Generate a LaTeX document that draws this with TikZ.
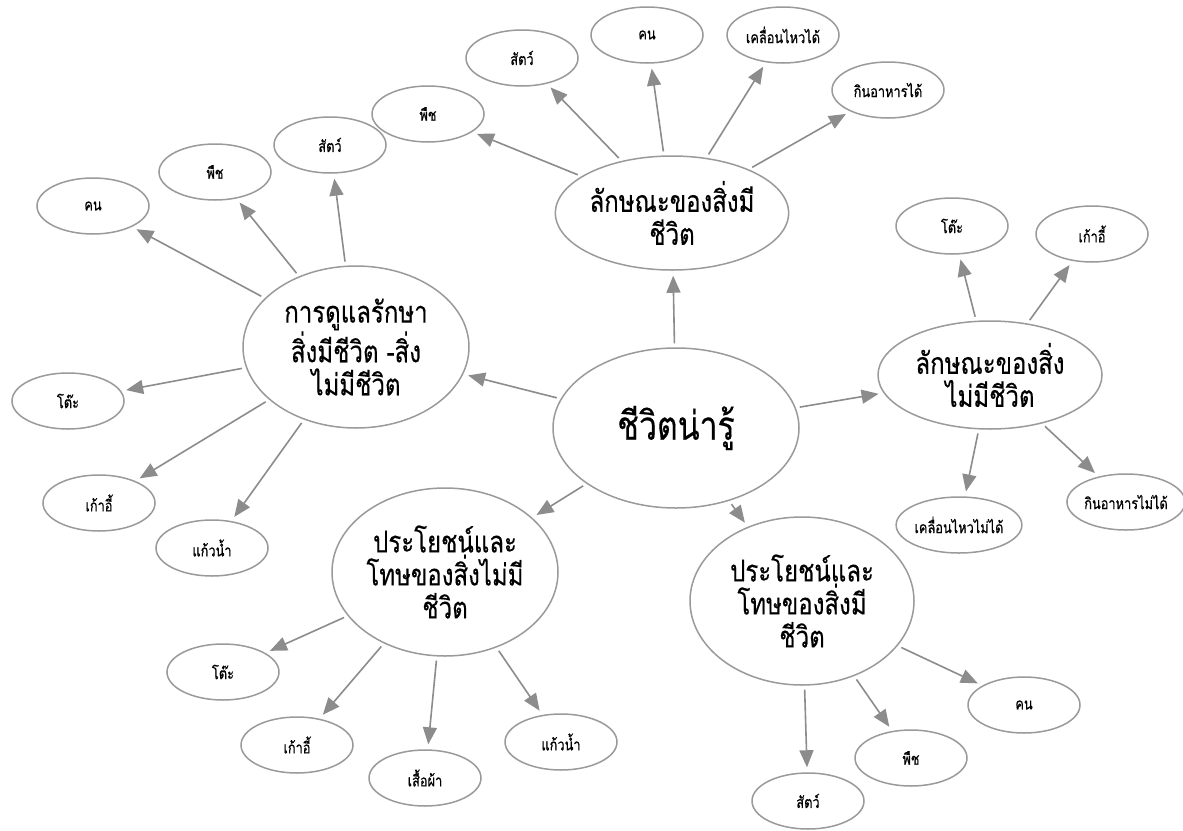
\documentclass[tikz,border=0pt]{standalone}
\usepackage{fontspec}
\newfontfamily\thaifont[Script=Thai,FakeStretch=0.8,FakeBold=0.6]{Loma}
\newfontfamily\thaimain[Script=Thai,FakeStretch=0.8,FakeBold=0.3]{Loma}
\usetikzlibrary{arrows.meta,shapes.geometric}
\definecolor{ellgray}{HTML}{9A9A9A}
\definecolor{arrgray}{HTML}{8C8C8C}
\tikzset{
  leaf/.style={ellipse,draw=ellgray,line width=1.5pt,minimum width=112pt,minimum height=56pt,inner sep=0pt,
    font=\thaifont\fontsize{16}{18}\selectfont},
  topic/.style={ellipse,draw=ellgray,line width=1.5pt,inner sep=0pt,align=center,
    font=\thaimain\fontsize{30}{33}\selectfont},
  arr/.style={draw=arrgray,line width=1.6pt,-{Triangle[length=17pt,width=14pt]},shorten >=5pt,shorten <=4pt}
}
\begin{document}
\begin{tikzpicture}[x=1pt,y=-1pt]
\useasboundingbox[fill=white] (0,0) rectangle (1183,830);
% main nodes
\node[topic,minimum width=246pt,minimum height=160pt,font=\thaimain\fontsize{40}{44}\selectfont] (c) at (676,428) {ชีวิตน่ารู้};
\node[topic,minimum width=220pt,minimum height=114pt] (t) at (672,213) {ลักษณะของสิ่งมี\\ชีวิต};
\node[topic,minimum width=226pt,minimum height=162pt] (l) at (356,347) {การดูแลรักษา\\สิ่งมีชีวิต -สิ่ง\\ไม่มีชีวิต};
\node[topic,minimum width=224pt,minimum height=108pt] (r) at (990,375) {ลักษณะของสิ่ง\\ไม่มีชีวิต};
\node[topic,minimum width=226pt,minimum height=168pt] (bl) at (445,572) {ประโยชน์และ\\โทษของสิ่งไม่มี\\ชีวิต};
\node[topic,minimum width=224pt,minimum height=168pt] (br) at (802,601) {ประโยชน์และ\\โทษของสิ่งมี\\ชีวิต};
% top cluster
\node[leaf] (t1) at (428,114) {พืช};
\node[leaf] (t2) at (522,58) {สัตว์};
\node[leaf] (t3) at (647,35) {คน};
\node[leaf] (t4) at (783,35) {เคลื่อนไหวได้};
\node[leaf] (t5) at (888,90) {กินอาหารได้};
% left cluster
\node[leaf] (l1) at (93,206) {คน};
\node[leaf] (l2) at (215,172) {พืช};
\node[leaf] (l3) at (330,145) {สัตว์};
\node[leaf] (l4) at (68,401) {โต๊ะ};
\node[leaf] (l5) at (99,503) {เก้าอี้};
\node[leaf] (l6) at (212,548) {แก้วน้ำ};
% right cluster
\node[leaf] (r1) at (952,226) {โต๊ะ};
\node[leaf] (r2) at (1092,234) {เก้าอี้};
\node[leaf,minimum width=116pt] (r3) at (959,525) {เคลื่อนไหวไม่ได้};
\node[leaf] (r4) at (1126,502) {กินอาหารไม่ได้};
% bottom-left cluster
\node[leaf] (b1) at (223,672) {โต๊ะ};
\node[leaf] (b2) at (297,745) {เก้าอี้};
\node[leaf] (b3) at (425,778) {เสื้อผ้า};
\node[leaf] (b4) at (561,742) {แก้วน้ำ};
% bottom-right cluster
\node[leaf] (d1) at (1024,705) {คน};
\node[leaf] (d2) at (911,758) {พืช};
\node[leaf] (d3) at (808,801) {สัตว์};
% connectors
\foreach \a/\b in {c/t,c/l,c/r,c/bl,c/br,
  t/t1,t/t2,t/t3,t/t4,t/t5,
  l/l1,l/l2,l/l3,l/l4,l/l5,l/l6,
  r/r1,r/r2,r/r3,r/r4,
  bl/b1,bl/b2,bl/b3,bl/b4,
  br/d1,br/d2,br/d3}
  \draw[arr] (\a) -- (\b);
\end{tikzpicture}
\end{document}
